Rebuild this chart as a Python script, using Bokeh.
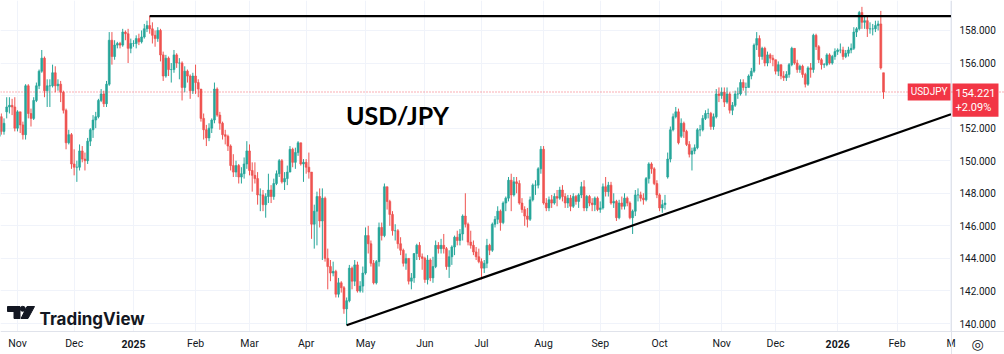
import pandas as pd
from bokeh.plotting import figure
from bokeh.models import ColumnDataSource, FixedTicker, PrintfTickFormatter, Span, Label, Range1d
from bokeh.core.properties import value
from bokeh.embed import file_html
from bokeh.resources import INLINE

# ---------------- data: USD/JPY daily candles, 23 Oct 2024 .. 26 Jan 2026 ----------------
open_ = [
    151.5, 152.7, 151.8, 153.0, 153.3, 153.4, 153.3,  # Oct 24
    152.0, 153.0, 152.2, 151.6, 154.6, 152.9, 152.6, 153.7, 154.6, 155.5, 156.3, 154.3, 154.6, 154.6, 155.4, 154.6, 154.7, 154.2, 153.1, 151.1, 151.6,  # Nov 24
    149.8, 149.6, 149.6, 150.6, 150.1, 150.0, 151.2, 151.9, 152.5, 152.7, 153.7, 154.1, 153.5, 154.7, 157.4, 156.4, 157.1, 157.2, 157.1, 157.9, 157.8, 156.9,  # Dec 24
    157.2, 157.2, 157.5, 157.3, 157.6, 158.1, 158.3, 158.1, 157.7, 157.5, 158.0, 156.5, 155.2, 156.3, 155.6, 155.6, 156.5, 156.0, 156.0, 154.5, 155.5, 155.2, 154.3,  # Jan 25
    155.2, 154.8, 154.4, 152.6, 151.9, 151.4, 152.0, 152.5, 154.4, 152.8, 152.3, 151.6, 151.5, 150.9, 149.7, 149.3, 149.7, 149.0, 149.2, 149.8,  # Feb 25
    150.6, 149.4, 149.1, 148.9, 147.9, 147.9, 147.3, 147.8, 148.2, 147.8, 148.6, 149.2, 150.0, 148.7, 148.9, 149.3, 150.7, 149.9, 150.5, 151.1, 149.8,  # Mar 25
    149.9, 149.6, 149.3, 146.1, 146.9, 147.8, 146.3, 147.7, 144.0, 143.5, 143.1, 143.2, 141.8, 142.5, 142.2, 140.9, 141.4, 143.4, 142.6, 143.6, 142.0, 142.3,  # Apr 25
    143.1, 145.4, 144.9, 143.7, 142.5, 143.8, 145.9, 145.4, 148.4, 147.5, 146.7, 145.7, 145.7, 144.9, 144.5, 143.7, 144.0, 142.6, 142.8, 144.3, 144.8, 144.1,  # May 25
    144.0, 142.7, 143.9, 142.8, 143.5, 144.8, 144.6, 144.8, 144.6, 143.5, 144.1, 144.7, 145.3, 145.1, 145.5, 146.6, 146.1, 145.0, 144.8, 144.4, 144.1,  # Jun 25
    143.8, 143.4, 143.7, 144.8, 144.5, 146.1, 146.4, 146.9, 146.2, 147.4, 147.7, 148.8, 147.9, 148.7, 148.6, 147.4, 147.0, 146.6, 146.4, 147.6, 148.5, 148.5, 149.5,  # Jul 25
    150.7, 147.4, 147.1, 147.6, 147.4, 147.8, 147.7, 148.2, 147.8, 147.4, 147.7, 147.2, 147.8, 147.5, 147.9, 148.4, 147.1, 147.8, 147.4, 147.3, 147.7,  # Aug 25
    147.0, 147.1, 148.4, 148.1, 148.5, 147.4, 147.5, 146.5, 147.4, 147.2, 147.7, 147.4, 146.5, 146.9, 147.9, 147.9, 147.7, 147.6, 148.9, 149.8, 149.5, 148.6,  # Sep 25
    147.9, 147.1, 147.3, 149.0, 150.1, 151.9, 152.7, 153.0, 151.5, 152.3, 151.8, 151.0, 150.4, 150.6, 150.8, 151.9, 151.9, 152.6, 152.9, 152.9, 152.1, 152.7, 154.1,  # Oct 25
    154.0, 154.2, 153.6, 154.1, 153.1, 153.4, 154.1, 154.1, 154.8, 154.5, 154.5, 155.2, 155.5, 157.1, 157.5, 156.4, 156.9, 156.0, 156.5, 156.3,  # Nov 25
    156.2, 155.5, 155.9, 155.2, 155.1, 155.3, 155.9, 156.9, 156.0, 155.6, 155.8, 155.3, 154.7, 155.7, 155.6, 157.7, 157.0, 156.2, 155.9, 155.9, 156.5, 156.0, 156.4,  # Dec 25
    156.7, 156.8, 156.8, 156.4, 156.6, 156.8, 156.9, 157.9, 158.1, 159.1, 158.5, 158.6, 158.1, 158.1, 158.1, 158.3, 158.4, 155.4,  # Jan 26
]
high = [
    153.2, 152.9, 152.6, 153.9, 153.9, 153.8, 153.9,
    153.1, 153.0, 152.4, 154.7, 154.7, 153.2, 153.9, 154.8, 155.6, 156.8, 156.4, 155.0, 155.0, 155.9, 155.8, 155.0, 154.9, 154.3, 153.2, 151.9, 151.7,
    150.7, 150.0, 151.0, 150.9, 150.5, 151.4, 152.0, 152.8, 153.0, 153.8, 154.4, 154.3, 154.9, 157.9, 157.9, 157.4, 157.3, 157.3, 158.1, 158.0, 158.1, 157.5,
    157.4, 157.7, 157.8, 158.0, 158.4, 158.6, 158.9, 158.5, 158.0, 158.2, 158.1, 156.7, 156.5, 156.4, 156.0, 156.8, 156.6, 156.3, 156.1, 155.8, 155.6, 155.3, 155.4,
    155.9, 155.0, 154.4, 152.9, 152.2, 152.3, 152.6, 154.8, 154.5, 153.0, 152.4, 151.9, 151.6, 151.0, 150.4, 150.0, 149.8, 149.6, 150.2, 151.2,
    151.0, 149.9, 149.9, 149.3, 148.3, 148.2, 148.0, 149.2, 148.5, 148.9, 149.4, 150.1, 150.1, 149.3, 149.7, 150.9, 150.8, 150.8, 151.2, 151.1, 150.1,
    150.1, 150.5, 149.3, 147.3, 148.1, 148.3, 148.3, 147.8, 144.6, 143.9, 143.8, 143.3, 142.8, 142.6, 142.3, 141.6, 143.6, 143.5, 143.9, 143.8, 142.6, 143.5,
    145.9, 146.0, 145.1, 143.9, 143.9, 146.2, 146.2, 148.6, 148.4, 147.6, 146.9, 146.1, 145.8, 145.3, 144.6, 144.3, 144.0, 143.1, 144.3, 144.9, 145.0, 144.3,
    144.1, 144.2, 144.0, 144.1, 145.1, 145.0, 145.2, 145.5, 144.7, 144.5, 144.8, 145.4, 145.7, 145.8, 146.7, 148.0, 146.2, 145.7, 145.1, 144.7, 144.6,
    144.0, 143.9, 145.2, 144.9, 146.2, 146.6, 147.2, 147.0, 147.5, 147.8, 149.0, 149.2, 149.0, 149.0, 148.8, 147.7, 147.2, 147.1, 147.8, 148.6, 148.8, 149.6, 150.9,
    150.9, 147.7, 147.8, 147.9, 148.0, 148.2, 148.4, 148.5, 148.0, 147.9, 147.9, 148.0, 147.9, 148.0, 148.7, 148.8, 147.9, 147.9, 147.7, 147.8, 147.8,
    147.5, 148.6, 149.0, 148.7, 148.7, 148.0, 147.6, 147.6, 147.8, 148.0, 147.8, 147.5, 147.0, 148.2, 148.3, 148.1, 148.0, 149.0, 149.9, 149.9, 149.6, 148.8,
    148.0, 147.6, 147.9, 150.5, 152.1, 152.9, 153.3, 153.2, 152.6, 152.4, 151.9, 151.2, 150.8, 151.0, 152.0, 152.2, 152.8, 153.1, 153.2, 153.0, 152.9, 154.4, 154.5,
    154.5, 154.5, 154.5, 154.2, 153.6, 154.3, 154.5, 155.0, 155.0, 154.8, 155.3, 155.7, 157.2, 157.9, 157.7, 157.0, 157.0, 156.7, 156.6, 156.5,
    156.2, 156.1, 155.9, 155.5, 155.5, 156.0, 157.0, 156.9, 156.2, 155.9, 155.9, 155.4, 155.8, 156.0, 157.8, 157.8, 157.1, 156.3, 156.0, 156.6, 156.6, 156.5, 156.9,
    156.9, 157.2, 157.0, 156.8, 157.0, 157.2, 158.2, 158.2, 159.2, 159.45, 158.9, 158.9, 158.5, 158.4, 158.6, 158.6, 159.2, 155.4,
]
low = [
    151.1, 151.6, 151.6, 152.6, 152.9, 152.8, 151.8,
    151.8, 151.7, 151.3, 151.3, 152.6, 152.1, 152.5, 153.6, 154.4, 155.4, 153.9, 153.3, 153.3, 154.5, 154.2, 154.3, 153.6, 152.9, 150.7, 151.0, 149.5,
    149.1, 148.7, 149.4, 149.9, 149.4, 149.8, 150.9, 151.4, 152.0, 152.6, 153.6, 153.3, 153.3, 154.6, 155.9, 156.2, 156.9, 156.9, 157.0, 157.4, 156.0, 156.6,
    157.0, 156.9, 157.1, 157.2, 157.5, 157.9, 157.8, 157.2, 157.0, 157.3, 156.1, 154.9, 155.1, 155.2, 154.8, 155.4, 155.7, 155.0, 153.7, 154.2, 154.8, 153.8, 154.1,
    154.1, 153.9, 152.4, 151.3, 150.9, 151.2, 151.7, 152.3, 152.7, 151.9, 151.3, 151.0, 150.6, 149.4, 149.0, 149.0, 148.6, 148.6, 148.9, 149.5,
    149.1, 148.1, 148.6, 147.3, 146.9, 146.9, 146.5, 147.4, 147.4, 147.6, 148.5, 149.0, 148.6, 148.2, 148.5, 149.3, 149.6, 149.5, 150.3, 149.7, 148.7,
    149.2, 148.9, 145.2, 144.6, 144.8, 145.9, 143.9, 143.8, 142.1, 142.6, 142.9, 141.6, 141.6, 141.9, 140.6, 139.89, 141.3, 142.1, 142.3, 141.9, 141.9, 141.9,
    143.0, 144.3, 143.5, 142.4, 142.4, 143.5, 145.1, 145.3, 147.0, 146.0, 145.4, 145.1, 144.6, 144.2, 143.5, 143.3, 142.4, 142.1, 142.5, 143.9, 143.9, 143.3,
    142.5, 142.4, 142.6, 142.5, 143.4, 144.3, 144.3, 144.3, 143.3, 142.8, 143.6, 144.2, 144.8, 144.8, 145.1, 145.9, 144.8, 144.6, 144.2, 143.9, 143.7,
    142.7, 143.1, 143.4, 144.2, 144.4, 145.9, 146.1, 145.7, 146.1, 146.9, 147.5, 146.9, 147.8, 148.0, 147.3, 146.8, 146.0, 145.9, 146.3, 147.5, 147.9, 148.3, 149.2,
    147.3, 146.9, 146.9, 147.1, 147.3, 147.2, 147.6, 147.5, 147.1, 147.1, 146.9, 147.1, 147.3, 147.1, 147.7, 146.9, 146.9, 147.2, 146.9, 146.9, 146.9,
    146.8, 147.0, 147.8, 147.8, 147.3, 147.1, 146.3, 146.4, 147.0, 147.0, 147.2, 146.4, 145.5, 146.6, 147.5, 147.5, 147.3, 147.5, 148.6, 149.2, 148.5, 147.7,
    146.9, 146.8, 147.0, 148.9, 149.9, 151.8, 152.6, 151.0, 151.4, 151.4, 150.9, 150.2, 149.4, 150.4, 150.7, 151.5, 151.8, 152.5, 152.6, 151.9, 151.9, 152.6, 153.6,
    153.8, 153.3, 153.5, 152.9, 152.8, 153.3, 153.8, 154.0, 154.3, 154.0, 154.5, 155.0, 155.4, 156.8, 155.9, 156.2, 155.8, 155.8, 156.0, 155.8,
    155.3, 155.2, 155.0, 154.9, 154.9, 155.1, 155.8, 155.9, 155.4, 155.4, 155.1, 154.5, 154.6, 155.1, 155.4, 156.8, 156.0, 155.6, 155.7, 155.8, 155.9, 155.9, 156.2,
    156.5, 156.6, 156.2, 156.3, 156.4, 156.6, 156.8, 157.6, 158.0, 158.1, 158.1, 157.6, 157.8, 157.7, 157.9, 158.0, 155.6, 153.8,
]
close = [
    152.7, 151.8, 152.3, 153.3, 153.4, 153.3, 152.0,
    153.0, 152.2, 151.6, 154.6, 152.9, 152.6, 153.7, 154.6, 155.5, 156.3, 154.3, 154.6, 154.6, 155.4, 154.6, 154.7, 154.2, 153.1, 151.1, 151.6, 149.8,
    149.6, 149.6, 150.6, 150.1, 150.0, 151.2, 151.9, 152.5, 152.7, 153.7, 154.1, 153.5, 154.7, 157.4, 156.4, 157.1, 157.2, 157.1, 157.9, 157.8, 156.9, 157.2,
    157.2, 157.5, 157.3, 157.6, 158.1, 158.3, 158.1, 157.7, 157.5, 158.0, 156.5, 155.2, 156.3, 155.6, 155.6, 156.5, 156.0, 156.0, 154.5, 155.5, 155.2, 154.3, 155.2,
    154.8, 154.4, 152.6, 151.9, 151.4, 152.0, 152.5, 154.4, 152.8, 152.3, 151.6, 151.5, 150.9, 149.7, 149.3, 149.7, 149.0, 149.2, 149.8, 150.6,
    149.4, 149.1, 148.9, 147.9, 147.9, 147.3, 147.8, 148.2, 147.8, 148.6, 149.2, 150.0, 148.7, 148.9, 149.3, 150.7, 149.9, 150.5, 151.1, 149.8, 149.9,
    149.6, 149.3, 146.1, 146.9, 147.8, 146.3, 147.7, 144.0, 143.5, 143.1, 143.2, 141.8, 142.5, 142.2, 140.9, 141.4, 143.4, 142.6, 143.6, 142.0, 142.3, 143.1,
    145.4, 144.9, 143.7, 142.5, 143.8, 145.9, 145.4, 148.4, 147.5, 146.7, 145.7, 145.7, 144.9, 144.5, 143.7, 144.0, 142.6, 142.8, 144.3, 144.8, 144.1, 144.0,
    142.7, 143.9, 142.8, 143.5, 144.8, 144.6, 144.8, 144.6, 143.5, 144.1, 144.7, 145.3, 145.1, 145.5, 146.6, 146.1, 145.0, 144.8, 144.4, 144.1, 143.8,
    143.4, 143.7, 144.8, 144.5, 146.1, 146.4, 146.9, 146.2, 147.4, 147.7, 148.8, 147.9, 148.7, 148.6, 147.4, 147.0, 146.6, 146.4, 147.6, 148.5, 148.5, 149.5, 150.7,
    147.4, 147.1, 147.6, 147.4, 147.8, 147.7, 148.2, 147.8, 147.4, 147.7, 147.2, 147.8, 147.5, 147.9, 148.4, 147.1, 147.8, 147.4, 147.3, 147.7, 147.0,
    147.1, 148.4, 148.1, 148.5, 147.4, 147.5, 146.5, 147.4, 147.2, 147.7, 147.4, 146.5, 146.9, 147.9, 147.9, 147.7, 147.6, 148.9, 149.8, 149.5, 148.6, 147.9,
    147.1, 147.3, 147.4, 150.1, 151.9, 152.7, 153.0, 151.1, 152.3, 151.8, 151.0, 150.4, 150.6, 150.8, 151.9, 151.9, 152.6, 152.9, 152.9, 152.1, 152.7, 154.1, 154.0,
    154.2, 153.6, 154.1, 153.1, 153.4, 154.1, 154.1, 154.8, 154.5, 154.5, 155.2, 155.5, 157.1, 157.5, 156.4, 156.9, 156.0, 156.5, 156.3, 156.2,
    155.5, 155.9, 155.2, 155.1, 155.3, 155.9, 156.9, 156.0, 155.6, 155.8, 155.3, 154.7, 155.7, 155.6, 157.7, 157.0, 156.2, 155.9, 155.9, 156.5, 156.0, 156.4, 156.7,
    156.8, 156.8, 156.4, 156.6, 156.8, 156.9, 157.9, 158.1, 159.1, 158.5, 158.6, 158.1, 158.1, 158.1, 158.3, 158.4, 155.7, 154.221,
]
first_date = "2024-10-23"

tick_dates = ["2024-11-01", "2024-12-02", "2025-01-01", "2025-02-03", "2025-03-03", "2025-04-01",
              "2025-05-01", "2025-06-02", "2025-07-01", "2025-08-01", "2025-09-01", "2025-10-01",
              "2025-11-03", "2025-12-01", "2026-01-01", "2026-02-02", "2026-03-02"]
tick_labels = ["Nov", "Dec", "2025", "Feb", "Mar", "Apr", "May", "Jun", "Jul", "Aug", "Sep", "Oct",
               "Nov", "Dec", "2026", "Feb", "M"]
bold_labels = ["2025", "2026"]
price_ticks = [140, 142, 144, 146, 148, 150, 152, 154, 156, 158]

resistance_dates = ["2025-01-09", "2026-03-02"]
resistance_level = [158.88, 158.88]
support_dates = ["2025-04-22", "2026-03-02"]
support_level = [139.89, 152.85]

symbol = "USDJPY"
last_price_text = "154.221"
change_text = "+2.09%"

# ---------------- index-based x (trading days, 1 Nov 2024 = 0) ----------------
days = pd.bdate_range(first_date, "2026-03-31")
origin = days.get_loc(pd.Timestamp("2024-11-01"))
def day_x(d):
    return days.get_loc(pd.Timestamp(d)) - origin

n = len(close)
xs = [i - origin for i in range(n)]
UP, DOWN = "#26a69a", "#ef5350"
colors = [UP if c >= o else DOWN for o, c in zip(open_, close)]
tops = [max(o, c) for o, c in zip(open_, close)]
bots = [min(o, c) for o, c in zip(open_, close)]
src = ColumnDataSource(dict(x=xs, high=high, low=low, top=tops, bottom=bots, color=colors))

# pane geometry: price pane is 951 x 331 px, scales continue under the axis strips
X0, X1 = -6.3, 346.2
Y0, Y1 = 139.51, 159.84
FW, FH = 951, 331
W, H = 1004, 354
def px_x(px):
    return X0 + px * (X1 - X0) / FW
def px_y(py):
    return Y1 - py * (Y1 - Y0) / FH

p = figure(width=W, height=H, x_range=Range1d(X0, px_x(W)), y_range=Range1d(px_y(H), Y1),
           output_backend="svg", toolbar_location=None, y_axis_location="right",
           min_border_left=0, min_border_top=0, min_border_right=0, min_border_bottom=0)
p.outline_line_color = None
p.background_fill_color = "white"
p.border_fill_color = "white"

tick_x = [day_x(d) for d in tick_dates]
p.xaxis.ticker = FixedTicker(ticks=tick_x)
p.xaxis.major_label_overrides = {tx: ("" if lab in bold_labels else lab) for tx, lab in zip(tick_x, tick_labels)}
p.xaxis.fixed_location = Y0
p.yaxis.ticker = FixedTicker(ticks=price_ticks)
p.yaxis.formatter = PrintfTickFormatter(format="%.3f")
p.yaxis.fixed_location = X1
for ax in (p.xaxis[0], p.yaxis[0]):
    ax.axis_line_color = "#e0e3eb"
    ax.major_tick_line_color = None
    ax.minor_tick_line_color = None
    ax.major_tick_out = 0
    ax.major_tick_in = 0
    ax.minor_tick_out = 0
    ax.minor_tick_in = 0
    ax.major_label_text_font = "Roboto"
    ax.major_label_text_color = "#131722"
p.xaxis.major_label_text_font_size = "10.5px"
p.yaxis.major_label_text_font_size = "10px"
p.xaxis.major_label_standoff = 5
p.yaxis.major_label_standoff = 8
p.xgrid.ticker = FixedTicker(ticks=tick_x)
p.ygrid.ticker = FixedTicker(ticks=price_ticks)
p.xgrid.grid_line_color = "#f0f3fa"
p.ygrid.grid_line_color = "#f0f3fa"

# candles
p.segment(x0="x", y0="low", x1="x", y1="high", line_color="color", line_width=1, source=src)
p.vbar(x="x", width=0.72, top="top", bottom="bottom", fill_color="color", line_color="color",
       line_width=0.6, source=src)

# blank strips under the price / time scales (hide grid there)
p.quad(left=[px_x(951.5)], right=[px_x(W)], bottom=[px_y(H)], top=[Y1], color="white", line_color=None)
p.quad(left=[X0], right=[px_x(W)], bottom=[px_y(H)], top=[px_y(331.5)], color="white", line_color=None)

for tx, lab in zip(tick_x, tick_labels):
    if lab in bold_labels:
        p.add_layout(Label(x=tx, y=px_y(343), text=lab, text_align="center", text_baseline="middle",
                           text_font="Roboto", text_font_style="bold", text_font_size="10.5px",
                           text_color="#131722"))

# price line
p.add_layout(Span(location=close[-1], dimension="width", line_color="#f23645", line_dash="1 2",
                  line_width=1, line_alpha=0.8))

# trend lines
p.line([day_x(d) for d in resistance_dates], resistance_level, line_color="black", line_width=2.2)
p.line([day_x(d) for d in support_dates], support_level, line_color="black", line_width=2.2)

# title text
p.add_layout(Label(x=px_x(397), y=px_y(114), text="USD/JPY", text_align="center", text_baseline="middle",
                   text_font="Lato", text_font_style="bold", text_font_size="25px", text_color="black"))

# TradingView logo
p.patch([px_x(v) for v in (7, 19.5, 19.5, 13.5, 13.5, 7)],
        [px_y(v) for v in (306, 306, 318, 318, 311, 311)], color="#131722")
p.patch([px_x(v) for v in (26.5, 34, 27.5, 20.5)],
        [px_y(v) for v in (306, 306, 318, 318)], color="#131722")
p.scatter([px_x(22.3)], [px_y(308.3)], size=5, color="#131722")
p.add_layout(Label(x=px_x(39), y=px_y(318), text="TradingView", text_align="left", text_baseline="alphabetic",
                   text_font="Inter", text_font_style="bold", text_font_size="17px", text_color="#131722"))

# symbol / price labels on the scale
p.add_layout(Label(x=px_x(950), y=close[-1], text=symbol, text_align="right", text_baseline="middle",
                   text_font="Roboto", text_font_size="10px", text_color="white",
                   background_fill_color="#f23645", padding=3))
p.add_layout(Label(x=px_x(952), y=px_y(83), text=last_price_text + "\n" + change_text, text_align="left",
                   text_baseline="top", text_font="Roboto", text_font_size="11px", text_color="white",
                   text_line_height=1.1, background_fill_color="#f23645", padding=3))
p.add_layout(Label(x=px_x(977), y=px_y(343), text="◎", text_align="center", text_baseline="middle",
                   text_font="DejaVu Sans", text_font_size="14px", text_color="#131722"))

open("out.html", "w").write(file_html(p, INLINE))
